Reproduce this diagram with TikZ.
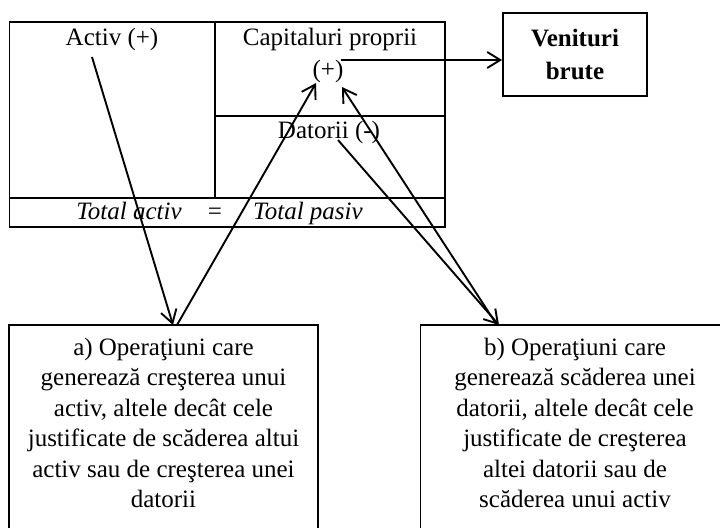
\documentclass[tikz,border=0pt]{standalone}
\usepackage{fontspec}
\setmainfont{Liberation Serif}
\usetikzlibrary{arrows.meta,calc}
\begin{document}
\begin{tikzpicture}[x=0.5pt,y=-0.5pt,
  txt/.style={font=\fontsize{12.5}{15.25}\selectfont, inner sep=0pt, anchor=base},
  opbox/.style={draw, line width=0.95pt, minimum width=154.5pt, minimum height=103pt,
    align=center, inner sep=0pt, font=\fontsize{12.5}{15.25}\selectfont},
  venbox/.style={draw, line width=0.95pt, minimum width=72pt, minimum height=41.5pt,
    align=center, inner sep=0pt, font=\fontsize{12.5}{16.5}\selectfont\bfseries},
  frame/.style={line width=0.95pt},
  arr/.style={line width=0.95pt, -{Straight Barb[length=6.5pt,width=8pt,line width=0.95pt]}}]
\useasboundingbox (0,0) rectangle (720,527);

% balance table
\draw[frame] (9.5,22) rectangle (445,227);
\draw[frame] (215,22) -- (215,198);
\draw[frame] (215,116) -- (445,116);
\draw[frame] (9.5,198) -- (445,198);

\node[txt] (activ) at (112,45) {Activ (+)};
\node[txt] (capital) at (330,45) {Capitaluri proprii};
\node[txt] (plus) at (328,77) {(+)};
\node[txt] (datorii) at (329,138) {Datorii (-)};
\node[txt] (totA) at (129,219.5) {\itshape Total activ};
\node[txt] (eq) at (215,219.5) {=};
\node[txt] (totP) at (308,219.5) {\itshape Total pasiv};

% revenue box
\node[venbox] (venit) at (575,54.5) {Venituri\\brute};

% operation boxes
\node[opbox] (boxa) at (163.5,428) {a) Operaţiuni care\\generează creşterea unui\\activ, altele decât cele\\justificate de scăderea altui\\activ sau de creşterea unei\\datorii\\[-10pt]\mbox{}};
\node[opbox] (boxb) at (575,428) {b) Operaţiuni care\\generează scăderea unei\\datorii, altele decât cele\\justificate de creşterea\\altei datorii sau de\\scăderea unui activ\\[-10pt]\mbox{}};

% connector end points
\coordinate (activFoot) at (92,57);
\coordinate (plusL) at (316,83);
\coordinate (plusB) at (342,87);
\coordinate (plusR) at (341,60);
\coordinate (datFoot) at (338,140);
\coordinate (aIn) at (173,325);
\coordinate (aOut) at (177,325);
\coordinate (bIn) at (499,325);
\coordinate (bOut) at (497,325);

\draw[arr] (activFoot) -- (aIn);
\draw[arr] (aOut) -- (plusL);
\draw[arr] (datFoot) -- (bIn);
\draw[arr] (bOut) -- (plusB);
\draw[arr] (plusR) -- (plusR -| venit.west);
\end{tikzpicture}
\end{document}
